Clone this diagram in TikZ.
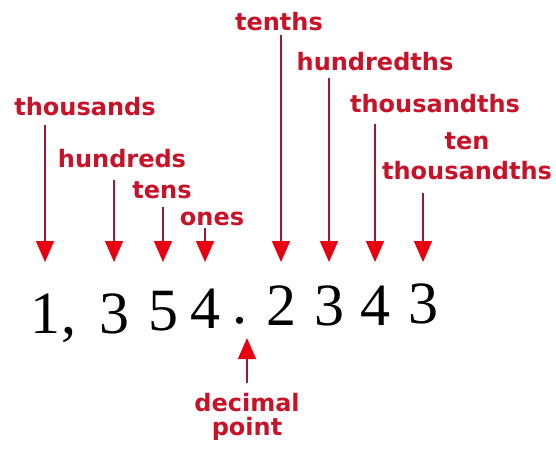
\documentclass[tikz,border=0pt]{standalone}
\usepackage{fontspec}
\setmainfont{Liberation Serif}
\newfontfamily\lblfont{DejaVu Sans}
\usetikzlibrary{arrows.meta}
\definecolor{lblred}{RGB}{200,18,40}
\definecolor{tipred}{RGB}{232,0,18}
\definecolor{stemred}{RGB}{160,25,45}
\tikzset{
  place/.style={font=\lblfont\bfseries\fontsize{24}{30}\selectfont, text=lblred, inner sep=0pt},
  digit/.style={font=\fontsize{60}{60}\selectfont, anchor=base, inner sep=0pt},
  pointer/.style={draw=stemred, line width=1.7pt, -{Triangle[width=18pt,length=21pt,color=tipred]}},
}
\begin{document}
\begin{tikzpicture}[x=1pt, y=-1pt]
    \useasboundingbox (0,0) rectangle (556,448);
    \coordinate (tipline) at (0,262);

    % the number
    \foreach \n/\x/\y/\t in {d1/45/333/1, cm/69/333/{,}, d2/114/333/3, d3/163/330/5, d4/205/328/4,
                             dot/240/323/., d5/281/325/2, d6/329/325/3, d7/375/325/4, d8/423/323/3} {
        \node[digit] (\n) at (\x,\y) {\t};
    }

    % place names
    \foreach \n/\x/\y/\t in {thou/85/115/thousands, hund/122/167/hundreds, tens/162/198/tens,
                             ones/212/225/ones, tnth/279/30/tenths, hdth/375/70/hundredths,
                             thth/435/112/thousandths} {
        \node[place, anchor=base] (\n) at (\x,\y) {\t};
    }
    \node[place, anchor=north, align=center] (tthh) at (467,132) {ten\\thousandths};
    \node[place, anchor=north, align=center] (dpnt) at (247,393) {decimal\\[-6pt]point};

    % pointers down to the digits
    \foreach \l/\d/\g in {thou/d1/10, hund/d2/13, tens/d3/9, ones/d4/3,
                          tnth/d5/5, hdth/d6/8, thth/d7/12} {
        \draw[pointer, shorten <=\g pt] (\l.base -| \d) -- (\d |- tipline);
    }
    \draw[pointer, shorten <=13pt] (tthh.south -| d8) -- (d8 |- tipline);

    % pointer up to the decimal point
    \draw[pointer, shorten <=10pt, shorten >=15pt] (dpnt.north) -- (dpnt.north |- dot.base);
\end{tikzpicture}
\end{document}
